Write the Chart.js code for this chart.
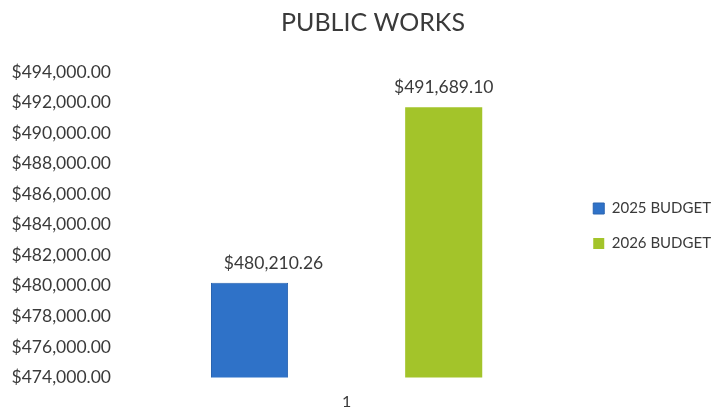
<!DOCTYPE html>
<html>
<head>
<meta charset="utf-8">
<script src="https://cdn.jsdelivr.net/npm/chart.js@4"></script>
<style>
    html, body { margin: 0; padding: 0; background: #fff; }
    #wrap { width: 721px; height: 414px; }
</style>
</head>
<body>
<div id="wrap"><canvas id="budgetChart"></canvas></div>
<script>
// Chart data
const categories = ['1'];
const seriesNames = ['2025 BUDGET', '2026 BUDGET'];
const budget2025 = [480210.26];
const budget2026 = [491689.10];
const seriesColors = ['#2f72c8', '#a3c42a'];
const yMin = 474000;
const yMax = 494000;
const yStep = 2000;

const money = v => '$' + Number(v).toLocaleString('en-US', {
    minimumFractionDigits: 2, maximumFractionDigits: 2
});

const textColor = '#3a3a3a';
const fontFamily = 'Lato, "Open Sans", sans-serif';

// simple data labels above bars (first label sits a little right, as in the source)
const labelShiftX = [24, 0];
const barLabels = {
    id: 'barLabels',
    afterDatasetsDraw(chart) {
        const ctx = chart.ctx;
        ctx.save();
        ctx.fillStyle = textColor;
        ctx.font = '17.5px ' + fontFamily;
        ctx.textAlign = 'center';
        ctx.textBaseline = 'alphabetic';
        chart.data.datasets.forEach((ds, i) => {
            chart.getDatasetMeta(i).data.forEach((bar, j) => {
                ctx.fillText(money(ds.data[j]), bar.x + labelShiftX[i], bar.y - 14);
            });
        });
        ctx.restore();
    }
};

// nudge legend and title, like the original
const boxShift = {
    id: 'boxShift',
    afterLayout(chart) {
        chart.legend.left += 25;
        chart.legend.right += 25;
        chart.legend.top += 15;
        chart.legend.bottom += 15;
        chart.titleBlock.left += 23;
        chart.titleBlock.right += 23;
    }
};

new Chart(document.getElementById('budgetChart'), {
    type: 'bar',
    data: {
        labels: categories,
        datasets: [
            {
                label: seriesNames[0],
                data: budget2025,
                backgroundColor: seriesColors[0],
                borderColor: '#2a64b0',
                borderWidth: 1
            },
            {
                label: seriesNames[1],
                data: budget2026,
                backgroundColor: seriesColors[1],
                borderWidth: 0
            }
        ]
    },
    options: {
        responsive: true,
        maintainAspectRatio: false,
        animation: false,
        layout: { padding: { left: 4, right: 25, top: 8, bottom: 0 } },
        datasets: {
            bar: { categoryPercentage: 0.963, barPercentage: 0.397 }
        },
        scales: {
            y: {
                min: yMin,
                max: yMax,
                ticks: {
                    stepSize: yStep,
                    color: textColor,
                    font: { family: fontFamily, size: 17.5 },
                    padding: 26,
                    callback: v => money(v)
                },
                grid: { display: false },
                border: { display: false },
                afterFit: s => { s.width = 141; }
            },
            x: {
                ticks: {
                    color: textColor,
                    font: { family: fontFamily, size: 16 },
                    padding: 7
                },
                grid: { display: false },
                border: { display: false },
                afterFit: s => { s.height = 36; }
            }
        },
        plugins: {
            title: {
                display: true,
                text: 'PUBLIC WORKS',
                color: textColor,
                font: { family: fontFamily, size: 25, weight: 'normal' },
                padding: { top: 0, bottom: 34 }
            },
            legend: {
                position: 'right',
                labels: {
                    color: textColor,
                    font: { family: fontFamily, size: 15 },
                    boxWidth: 11,
                    boxHeight: 11,
                    padding: 20
                }
            },
            tooltip: { enabled: false }
        }
    },
    plugins: [barLabels, boxShift]
});
</script>
</body>
</html>
